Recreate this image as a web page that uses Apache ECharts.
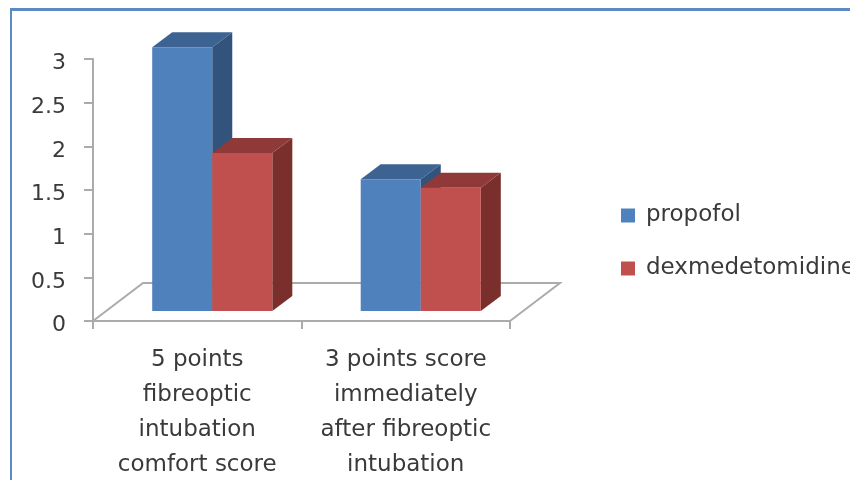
<!DOCTYPE html>
<html>
<head>
<meta charset="utf-8">
<style>
html, body { margin: 0; padding: 0; background: #fff; }
#main { width: 850px; height: 480px; }
</style>
<script src="https://cdn.jsdelivr.net/npm/echarts@6/dist/echarts.min.js"></script>
</head>
<body>
<div id="main"></div>
<script>
var categories = [
	'5 points\nfibreoptic\nintubation\ncomfort score',
	'3 points score\nimmediately\nafter fibreoptic\nintubation'
];
var propofol = [3.02, 1.51];
var dexmedetomidine = [1.81, 1.41];
var yTicks = { min: 0, max: 3, interval: 0.5 };

var textColor = '#3a3a3a';
var axisColor = '#ababab';
var font = 'DejaVu Sans';

// one box: front face + top + right side, base from the axis scale
function bar3d(seriesIndex, front, top, side) {
	return function (params, api) {
		var cat = api.value(0);
		var base = api.coord([cat, 0]);
		var head = api.coord([cat, api.value(1)]);
		var w = api.size([1, 0])[0] * 0.288;
		var x0 = base[0] + 15 + (seriesIndex - 1) * w;
		var x1 = x0 + w;
		var y0 = base[1] - 10;
		var yt = head[1] - 10;
		var dx = 20, dy = 15;
		return {
			type: 'group',
			children: [
				{ type: 'polygon', shape: { points: [[x1, y0], [x1 + dx, y0 - dy], [x1 + dx, yt - dy], [x1, yt]] }, style: { fill: side } },
				{ type: 'polygon', shape: { points: [[x0, yt], [x0 + dx, yt - dy], [x1 + dx, yt - dy], [x1, yt]] }, style: { fill: top } },
				{ type: 'rect', shape: { x: x0, y: yt, width: w, height: y0 - yt }, style: { fill: front } }
			]
		};
	};
}

// floor of the 3d box, from the grid rect
function floor(params, api) {
	if (params.dataIndex > 0) return null;
	var c = params.coordSys;
	var b = c.y + c.height;
	var r = c.x + c.width;
	return {
		type: 'polyline',
		shape: { points: [[c.x, b], [c.x + 50, b - 38], [r + 50, b - 38], [r, b]] },
		style: { fill: null, stroke: axisColor, lineWidth: 2 }
	};
}

var myChart = echarts.init(document.getElementById('main'), null, { renderer: 'canvas' });

var option = {
	animation: false,
	backgroundColor: '#fff',
	textStyle: { fontFamily: font },
	grid: { left: 93, top: 59, width: 417, height: 262, containLabel: false, outerBoundsMode: 'none' },
	legend: {
		orient: 'vertical',
		left: 616,
		top: 199,
		itemGap: 30,
		itemWidth: 14,
		itemHeight: 14,
		icon: 'rect',
		textStyle: { color: textColor, fontSize: 23, fontFamily: font, padding: [0, 0, 0, 6] },
		data: ['propofol', 'dexmedetomidine']
	},
	xAxis: {
		type: 'category',
		data: categories,
		axisLine: { lineStyle: { color: axisColor, width: 2 } },
		axisTick: { show: true, alignWithLabel: false, length: 8, lineStyle: { color: axisColor, width: 2 } },
		axisLabel: { color: textColor, fontSize: 23, lineHeight: 35, margin: 22, interval: 0, fontFamily: font }
	},
	yAxis: {
		type: 'value',
		min: yTicks.min,
		max: yTicks.max,
		interval: yTicks.interval,
		splitLine: { show: false },
		axisLine: { show: true, lineStyle: { color: axisColor, width: 2 } },
		axisTick: { show: true, length: 9, lineStyle: { color: axisColor, width: 2 } },
		axisLabel: {
			margin: 27,
			formatter: '{a|{value}}',
			rich: { a: { color: textColor, fontSize: 22, fontFamily: font, padding: [9, 0, 0, 0] } }
		}
	},
	series: [
		{
			type: 'custom',
			name: 'floor',
			renderItem: floor,
			data: [[0, 0]],
			silent: true,
			z: 1
		},
		{
			type: 'custom',
			name: 'propofol',
			renderItem: bar3d(0, '#4f81bd', '#3c6391', '#31537c'),
			encode: { x: 0, y: 1 },
			itemStyle: { color: '#4f81bd' },
			data: propofol.map(function (v, i) { return [i, v]; }),
			z: 2
		},
		{
			type: 'custom',
			name: 'dexmedetomidine',
			renderItem: bar3d(1, '#c0504d', '#8f3a38', '#7a2f2d'),
			encode: { x: 0, y: 1 },
			itemStyle: { color: '#c0504d' },
			data: dexmedetomidine.map(function (v, i) { return [i, v]; }),
			z: 3
		}
	],
	// frame of the pasted picture, runs off right and bottom
	graphic: [
		{ type: 'rect', shape: { x: 10, y: 8, width: 2, height: 472 }, style: { fill: '#5b8bc6' }, z: 10 },
		{ type: 'rect', shape: { x: 10, y: 8, width: 840, height: 3 }, style: { fill: '#5b8bc6' }, z: 10 }
	]
};

myChart.setOption(option);
</script>
</body>
</html>
